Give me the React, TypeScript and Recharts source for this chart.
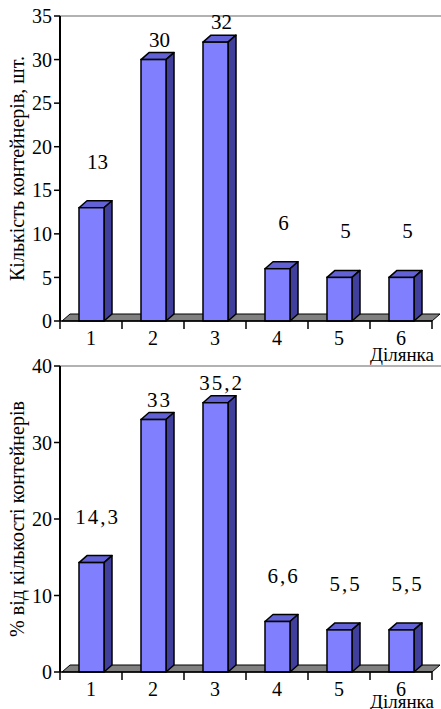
import React from 'react';
import { BarChart, Bar, XAxis, YAxis, ReferenceLine } from 'recharts';

const sites = ['1', '2', '3', '4', '5', '6'];
const containerCounts = [13, 30, 32, 6, 5, 5];
const containerShares = [14.3, 33, 35.2, 6.6, 5.5, 5.5];
const countTicks = [0, 5, 10, 15, 20, 25, 30, 35];
const shareTicks = [0, 10, 20, 30, 40];

const FONT = 'Liberation Serif, Tinos, DejaVu Serif, serif';
const DX = 8;
const DY = 7;

const fmt = (v: number) => String(v).replace('.', ',');

const Bar3D = (props: any) => {
  const { x, y, width, height } = props;
  if (height == null || height <= 0) return null;
  return (
    <g>
      <polygon
        points={`${x},${y} ${x + DX},${y - DY} ${x + width + DX},${y - DY} ${x + width},${y}`}
        fill="#6262d6"
        stroke="#000"
        strokeWidth={1.5}
        strokeLinejoin="round"
      />
      <polygon
        points={`${x + width},${y} ${x + width + DX},${y - DY} ${x + width + DX},${y + height - DY} ${x + width},${y + height}`}
        fill="#40409c"
        stroke="#000"
        strokeWidth={1.5}
        strokeLinejoin="round"
      />
      <rect x={x} y={y} width={width} height={height} fill="#8080ff" stroke="#000" strokeWidth={1.5} />
    </g>
  );
};

const Floor = (props: any) => {
  const { x1, x2, y1 } = props;
  const l = x1 + 2;
  return (
    <polygon
      points={`${l},${y1} ${l + DX},${y1 - DY} ${x2 + DX},${y1 - DY} ${x2},${y1}`}
      fill="#808080"
      stroke="#000"
      strokeWidth={1}
    />
  );
};

const TopEdge = (props: any) => {
  const { x1, x2, y1 } = props;
  return <line x1={x1} y1={y1} x2={x2 + DX + 2} y2={y1} stroke="#666" strokeWidth={1.2} />;
};

const CatTick = (props: any) => {
  const { x, y, payload, index } = props;
  const half = payload && payload.offset ? payload.offset : 31;
  return (
    <g>
      <line x1={x - half} y1={y} x2={x - half} y2={y + 8} stroke="#000" strokeWidth={1.5} />
      {index === sites.length - 1 && (
        <line x1={x + half} y1={y} x2={x + half} y2={y + 8} stroke="#000" strokeWidth={1.5} />
      )}
      <text x={x} y={y + 24} textAnchor="middle" style={{ fontFamily: FONT, fontSize: 20 }} fill="#000">
        {payload.value}
      </text>
    </g>
  );
};

type PanelProps = {
  values: number[];
  ticks: number[];
  yTitle: string;
  height: number;
  top: number;
  xAxisHeight: number;
  siteLabelY: number;
  spacing: number;
};

const Panel = ({ values, ticks, yTitle, height, top, xAxisHeight, siteLabelY, spacing }: PanelProps) => {
  const data = sites.map((s, i) => ({ site: s, value: values[i] }));
  const max = ticks[ticks.length - 1];

  // short bars carry their label higher above, as in the source figure
  const renderValue = (p: any) => {
    const { x, y, width, value } = p;
    const off = value > max / 2 ? 20 : 46;
    return (
      <text
        x={x + width / 2 + 6}
        y={y - off + 7}
        textAnchor="middle"
        style={{ fontFamily: FONT, fontSize: 21, letterSpacing: spacing }}
        fill="#000"
      >
        {fmt(value)}
      </text>
    );
  };

  return (
    <BarChart
      width={441}
      height={height}
      data={data}
      margin={{ top, right: 9, bottom: 0, left: 0 }}
      barSize={25}
    >
      <ReferenceLine y={0} shape={<Floor />} zIndex={-10} />
      <ReferenceLine y={max} shape={<TopEdge />} />
      <XAxis
        dataKey="site"
        interval={0}
        tickLine={false}
        tickSize={0}
        tickMargin={0}
        height={xAxisHeight}
        axisLine={{ stroke: '#000', strokeWidth: 1.5 }}
        tick={<CatTick />}
        label={{
          content: (p: any) => {
            const vb = p.viewBox;
            return (
              <text
                x={vb.x + vb.width + 2}
                y={vb.y + siteLabelY}
                textAnchor="end"
                style={{ fontFamily: FONT, fontSize: 19 }}
                fill="#000"
              >
                Ділянка
              </text>
            );
          },
        }}
      />
      <YAxis
        width={60}
        domain={[0, max]}
        ticks={ticks}
        interval={0}
        tickSize={6}
        tickMargin={2}
        axisLine={{ stroke: '#000', strokeWidth: 2 }}
        tickLine={{ stroke: '#000', strokeWidth: 1.5 }}
        tick={{ fontFamily: FONT, fontSize: 20, fill: '#000', style: { fontFamily: FONT } }}
        label={{
          content: (p: any) => {
            const vb = p.viewBox;
            const cy = vb.y + vb.height / 2;
            return (
              <text
                x={17}
                y={cy}
                transform={`rotate(-90, 17, ${cy})`}
                textAnchor="middle"
                dominantBaseline="central"
                style={{ fontFamily: FONT, fontSize: 20 }}
                fill="#000"
              >
                {yTitle}
              </text>
            );
          },
        }}
      />
      <Bar dataKey="value" shape={<Bar3D />} label={renderValue} isAnimationActive={false} />
    </BarChart>
  );
};

export default function App() {
  return (
    <div style={{ position: 'absolute', left: 0, top: 0, width: 441, height: 709, background: '#fff', overflow: 'hidden', fontFamily: FONT }}>
      <style>{'.recharts-surface { overflow: visible; }'}</style>
      <div style={{ position: 'absolute', left: 0, top: 0 }}>
        <Panel
          values={containerCounts}
          ticks={countTicks}
          yTitle="Кількість контейнерів, шт."
          height={364}
          top={16}
          xAxisHeight={43}
          siteLabelY={40}
          spacing={0}
        />
      </div>
      <div style={{ position: 'absolute', left: 0, top: 360 }}>
        <Panel
          values={containerShares}
          ticks={shareTicks}
          yTitle="% від кількості контейнерів"
          height={349}
          top={6}
          xAxisHeight={37}
          siteLabelY={36}
          spacing={2}
        />
      </div>
    </div>
  );
}
